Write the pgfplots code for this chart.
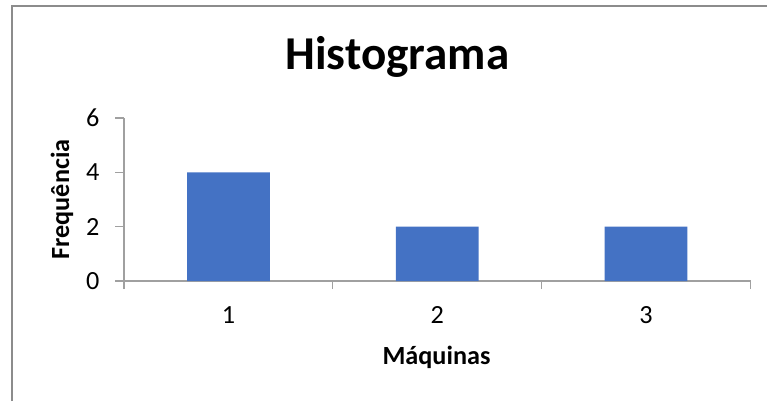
\documentclass[border=0pt]{standalone}
\usepackage{pgfplots}
\pgfplotsset{compat=1.18}
\usepackage{fontspec}
\setmainfont{Carlito}
\definecolor{barblue}{HTML}{4472C4}
\definecolor{axgray}{HTML}{A0A0A0}
\definecolor{framegray}{HTML}{8C8C8C}
\begin{document}
\begin{tikzpicture}[x=1bp,y=1bp]
\useasboundingbox (0,0) rectangle (767,401);
\draw[framegray, line width=1.5bp] (12,0) -- (12,395) -- (767,395);
\begin{axis}[
  at={(124bp,120bp)}, anchor=south west,
  scale only axis, width=626.5bp, height=163bp,
  xmin=0.5, xmax=3.5, ymin=0, ymax=6,
  axis lines*=left,
  axis line style={axgray, line width=1.2bp, -},
  xtick={1,2,3},
  minor xtick={0.5,1.5,2.5,3.5},
  ytick={0,2,4,6},
  tick align=outside,
  major tick length=9bp, minor tick length=8bp,
  tick style={axgray, line width=1.2bp},
  major x tick style={draw=none},
  ticklabel style={font=\fontsize{26.3}{26.3}\selectfont, text=black},
  /pgf/number format/assume math mode=true,
  xticklabel style={yshift=-13bp},
  yticklabel style={xshift=-12bp},
  ybar, bar width=82.7bp,
]
\addplot[fill=barblue, draw=none] coordinates {(1,4) (2,2) (3,2)};
\end{axis}
\node[anchor=base, font=\bfseries\fontsize{47.3}{47.3}\selectfont] at (397.5,332) {Histograma};
\node[anchor=base, rotate=90, font=\bfseries\fontsize{26.3}{26.3}\selectfont] at (69,201.5) {Frequência};
\node[anchor=base, font=\bfseries\fontsize{26.3}{26.3}\selectfont] at (436.5,37) {Máquinas};
\end{tikzpicture}
\end{document}
